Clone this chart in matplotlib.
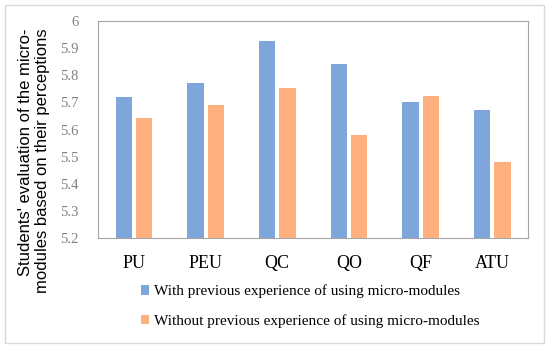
import matplotlib.pyplot as plt
import numpy as np
from matplotlib.patches import Rectangle

categories = ["PU", "PEU", "QC", "QO", "QF", "ATU"]
with_exp = [5.72, 5.773, 5.926, 5.84, 5.703, 5.672]
without_exp = [5.644, 5.69, 5.752, 5.579, 5.723, 5.482]
yticks = [5.2, 5.3, 5.4, 5.5, 5.6, 5.7, 5.8, 5.9, 6]

plt.rcParams['font.family'] = ['Liberation Serif', 'DejaVu Serif']

fig = plt.figure(figsize=(5.5, 3.49), dpi=100)
ax = fig.add_axes([98 / 550, 1 - 238 / 349, 430 / 550, 217 / 349])

x = np.arange(len(categories))
ax.bar(x - 0.14, np.array(with_exp) - 5.2, bottom=5.2, width=0.225,
       color='#7ea6db', label='With previous experience of using micro-modules')
ax.bar(x + 0.145, np.array(without_exp) - 5.2, bottom=5.2, width=0.225,
       color='#ffb07f', label='Without previous experience of using micro-modules')

ax.set_xlim(-0.5, len(categories) - 0.5)
ax.set_ylim(5.2, 6)
ax.set_yticks(yticks)
ax.set_yticklabels([f"{t:g}" for t in yticks], color='#808080', fontsize=10.5)
ax.set_xticks(x)
ax.set_xticklabels(categories, fontsize=13)
ax.tick_params(axis='both', length=0)
ax.tick_params(axis='y', pad=14)
ax.tick_params(axis='x', pad=12)

for s in ax.spines.values():
    s.set_color('#a6a6a6')
    s.set_linewidth(0.8)

# y label is in a sans font in the original, lines aligned at the top end
fig.text(34 / 550, 1 - 161 / 349,
         "Students' evaluation of the micro-\nmodules based on their perceptions",
         rotation=90, va='center', ha='center', fontsize=12, linespacing=1.1,
         multialignment='right', family=['Liberation Sans', 'DejaVu Sans'])

fig.legend(*ax.get_legend_handles_labels(), loc='upper left',
           bbox_to_anchor=(133 / 550, 1 - 277 / 349), ncol=1, frameon=False,
           fontsize=11, borderpad=0, handlelength=0.55, handleheight=0.55,
           handletextpad=0.3, labelspacing=1.05)

# outer border
fig.patches.append(Rectangle((5 / 550, 6 / 349), 539 / 550, 338 / 349,
                             transform=fig.transFigure, fill=False,
                             edgecolor='#d9d9d9', linewidth=1))

fig.savefig("out.png", dpi=100)
